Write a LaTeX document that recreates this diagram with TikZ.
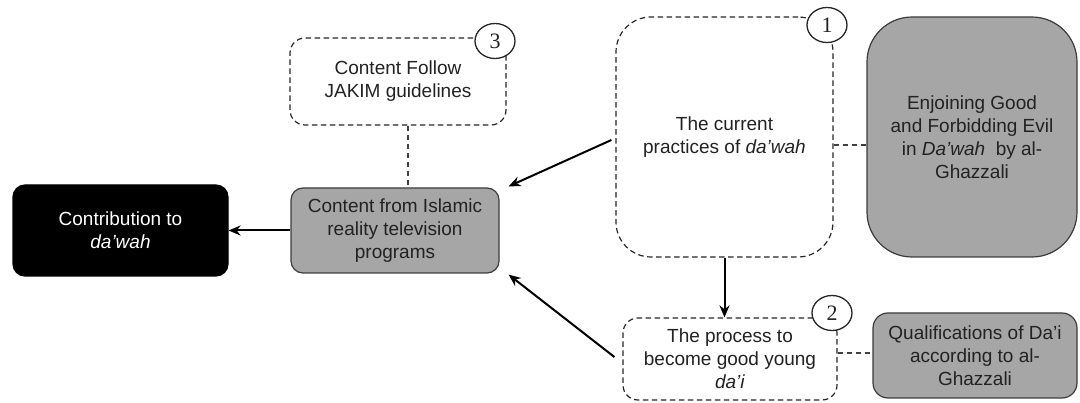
\documentclass[tikz,border=0pt]{standalone}
\usepackage{fontspec}
\setmainfont{Liberation Sans}
\newfontfamily\numfont{Liberation Serif}
\usetikzlibrary{arrows.meta,shapes.geometric}
\definecolor{boxgray}{HTML}{A6A6A6}
\definecolor{edgegray}{HTML}{3C3C3C}
\definecolor{txt}{HTML}{222222}
\tikzset{
  base/.style={rounded corners=#1, align=center, inner sep=2pt, text=txt,
    font=\fontsize{19}{23}\selectfont, line width=1.2pt},
  darkbox/.style={base=12pt, fill=black, draw=black, text=white},
  graybox/.style={base=#1, fill=boxgray, draw=edgegray},
  dashbox/.style={base=#1, fill=white, draw=black!85, dash pattern=on 5.5pt off 3.5pt},
  numcirc/.style={ellipse, draw=black!85, fill=white, line width=1.3pt,
    minimum width=40pt, minimum height=35pt, inner sep=0pt,
    font=\numfont\fontsize{22}{22}\selectfont, text=txt},
  link/.style={draw=black!75, line width=1.2pt, dash pattern=on 5.5pt off 3.5pt},
  arr/.style={draw=black, line width=2pt, -{Stealth[length=12pt,width=10pt]}},
}
\begin{document}
\begin{tikzpicture}[x=1pt,y=-1pt]
\useasboundingbox (0,0) rectangle (1080,403);
% nodes
\node[darkbox, minimum width=215pt, minimum height=91pt] (contrib) at (120.5,230.5)
  {Contribution to\\\textit{da’wah}};
\node[graybox=12pt, minimum width=208pt, minimum height=85pt] (content) at (395,230.5)
  {Content from Islamic\\reality television\\programs};
\node[dashbox=15pt, minimum width=216pt, minimum height=87pt] (jakim) at (398,81.5)
  {Content Follow\\JAKIM guidelines};
\node[dashbox=35pt, minimum width=217pt, minimum height=240pt] (current) at (724.5,137)
  {The current\\practices of \textit{da’wah}};
\node[graybox=45pt, minimum width=210pt, minimum height=240pt] (enjoin) at (972,137)
  {Enjoining Good\\and Forbidding Evil\\in \textit{Da’wah}\ \ by al-\\Ghazzali};
\node[dashbox=15pt, minimum width=214pt, minimum height=82pt] (process) at (730,359)
  {The process to\\become good young\\\textit{da’i}};
\node[graybox=15pt, minimum width=204pt, minimum height=85pt] (qual) at (975,355.5)
  {Qualifications of Da’i\\according to al-\\Ghazzali};
% number circles
\node[numcirc] (n3) at (495,41) {3};
\node[numcirc] (n1) at (827,25) {1};
\node[numcirc] (n2) at (832,313) {2};
% dashed links
\draw[link] ([xshift=10pt]jakim.south) -- ([xshift=10pt]jakim.south |- content.north);
\draw[link] ([yshift=-8pt]current.east) -- ([yshift=-8pt]current.east -| enjoin.west);
\draw[link] ([yshift=6pt]process.east) -- ([yshift=6pt]process.east -| qual.west);
% arrows
\draw[arr] (content.west) -- (contrib.east);
\draw[arr] ([xshift=-4pt,yshift=-3pt]current.west) -- ([xshift=9pt,yshift=1pt]content.north east);
\draw[arr] ([xshift=-8pt,yshift=2pt]process.west) -- ([xshift=9pt,yshift=-1pt]content.south east);
\draw[arr] (current.south) -- (current.south |- process.north);
\end{tikzpicture}
\end{document}
